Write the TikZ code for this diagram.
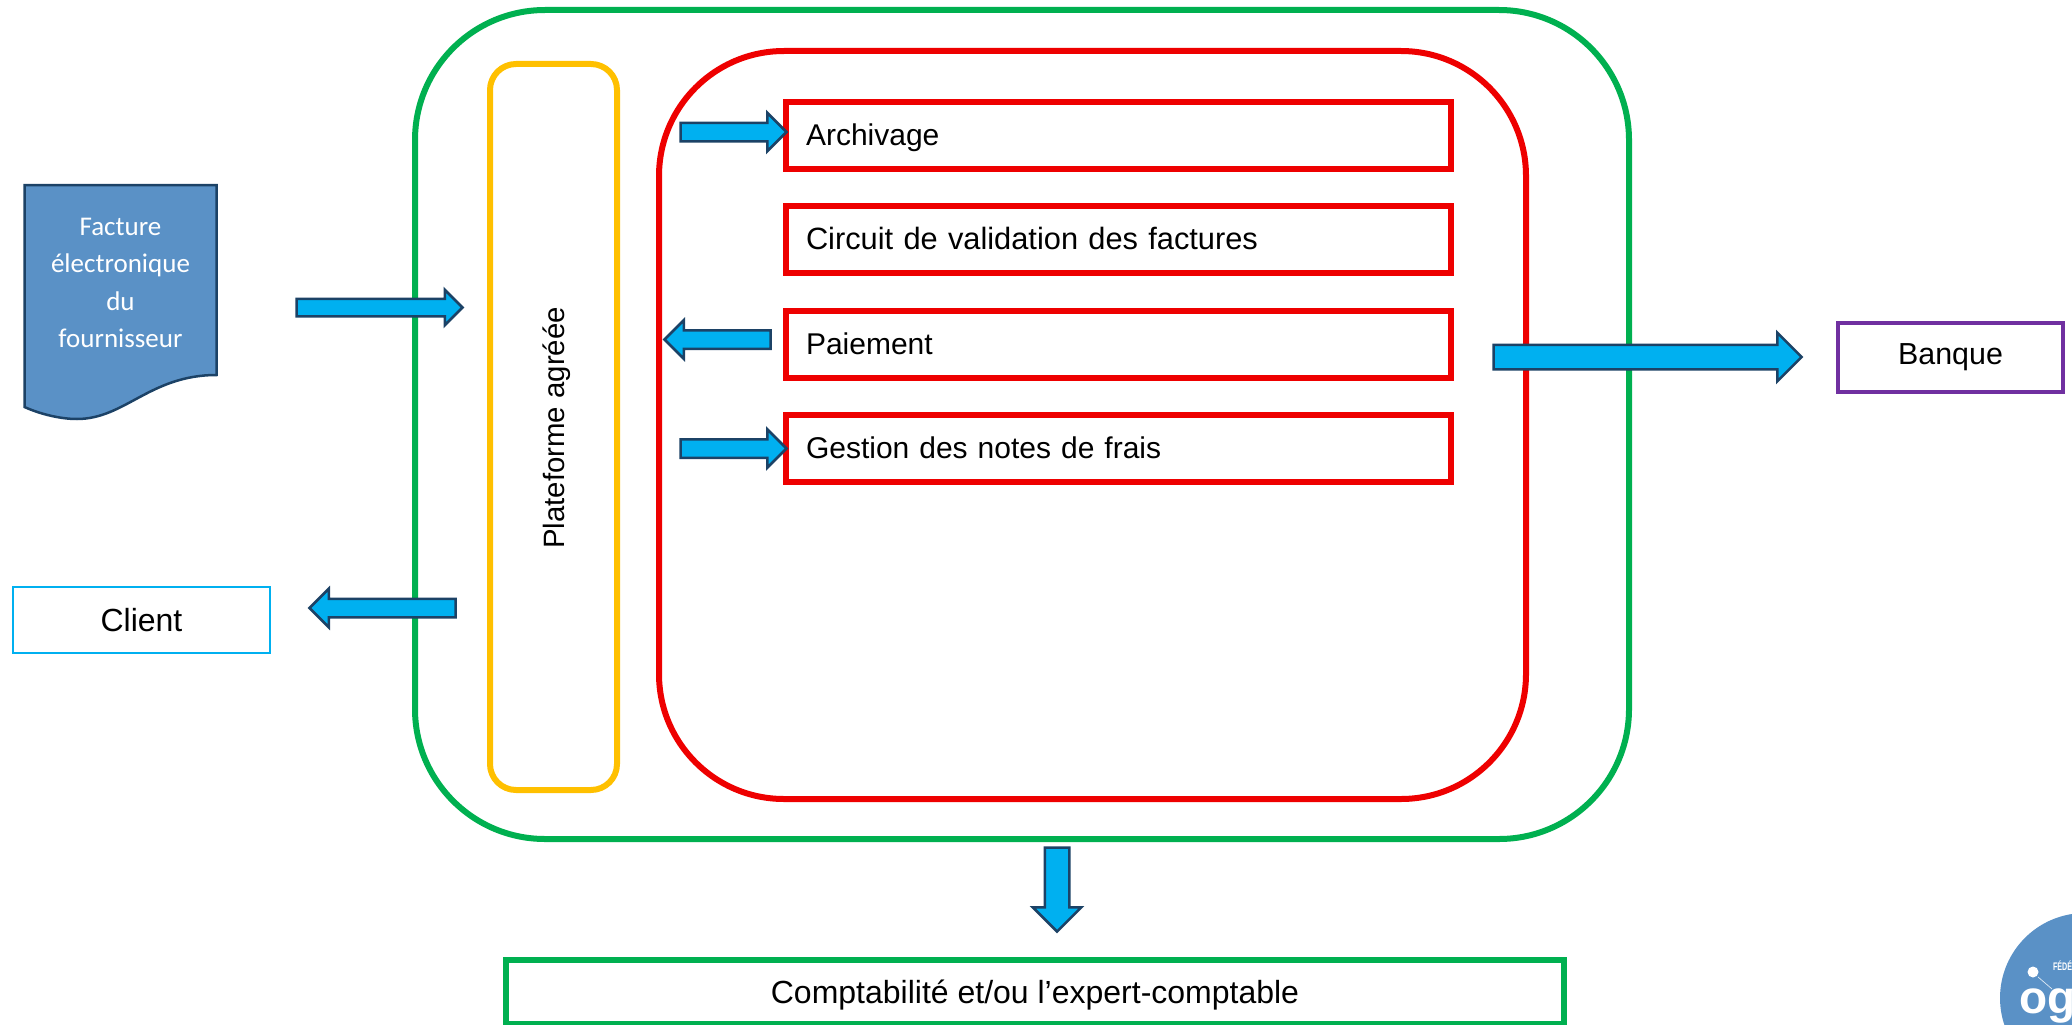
\documentclass[tikz,border=0pt]{standalone}
\usepackage{fontspec}
\setmainfont{Liberation Sans}
\newfontfamily\docfont{Carlito}
\usetikzlibrary{positioning, calc, shapes.arrows}
\definecolor{plgreen}{HTML}{00B050}
\definecolor{plred}{HTML}{EE0000}
\definecolor{plyellow}{HTML}{FFC000}
\definecolor{plpurple}{HTML}{7030A0}
\definecolor{plcyan}{HTML}{00B0F0}
\definecolor{pldark}{HTML}{1C4266}
\definecolor{plblue}{HTML}{5A91C6}
\tikzset{
every node/.style = {outer sep = 0pt, inner sep = 0pt},
frame/.style = {rectangle, draw, rounded corners = 130pt, line width = 6pt},
label text/.style = {font = \fontsize{#1}{36}\selectfont},
step box/.style = {rectangle, draw = plred, line width = 6pt, minimum width = 665pt,
   minimum height = 67pt, text width = 624pt, align = left, text height = 24pt,
   text depth = 5pt, label text = 30},
flow/.style = {single arrow, anchor = tip, draw = pldark, fill = plcyan, line width = 2.5pt,
   inner xsep = 0pt, inner ysep = 8pt, minimum width = 36pt, single arrow head extend = 10pt},
bigflow/.style = {flow, inner ysep = 11pt, minimum width = 46pt, single arrow head extend = 12pt}
}
\begin{document}
\begin{tikzpicture}[x = 1pt, y = -1pt]
\useasboundingbox (0,0) rectangle (2072,1025);

%% Frames
\node [frame, draw = plgreen, minimum width = 1214pt, minimum height = 829pt] (Ogs) at (1022,424.5) {};
\node [frame, draw = plyellow, rounded corners = 26pt, minimum width = 127pt, minimum height = 726pt] (Pa) at (553.5,427) {};
\node [frame, draw = plred, rounded corners = 125pt, minimum width = 867pt, minimum height = 748pt] (Sys) at (1092.5,425) {};
\node [rotate = 90, label text = 29.4] (PaText) at (557,428) {Plateforme agréée};

%% Steps
\node [step box] (S1) at (1118,135.5) {Archivage};
\node [step box, label text = 30.8] (S2) [below = 37pt of S1] {Circuit de validation des factures};
\node [step box] (S3) [below = 38pt of S2] {Paiement};
\node [step box] (S4) [below = 37pt of S3] {Gestion des notes de frais};

%% Outside
\draw [draw = pldark, fill = plblue, line width = 2.5pt]
   (24.5,185) -- (216.5,185) -- (216.5,375) .. controls (150,375) and (125,419) .. (77,419)
   .. controls (60,419) and (40,414) .. (24.5,407) -- cycle;
\node [align = center, text = white, font = \docfont\fontsize{27}{37.5}\selectfont] (Fact) at (120.5,283) {Facture\\électronique\\du\\fournisseur};
\node [rectangle, draw = plcyan, line width = 2pt, minimum width = 257pt, minimum height = 66pt, label text = 32] (Client) at (141.5,620) {Client};
\node [rectangle, draw = plpurple, line width = 4pt, minimum width = 225pt, minimum height = 69pt, label text = 30.4] (Bank) at (1950.5,357) {Banque};
\node [rectangle, draw = plgreen, line width = 6pt, minimum width = 1058pt, minimum height = 64pt, text height = 27pt, text depth = 5pt, label text = 32] (Compta) at (1035,992) {Comptabilité et/ou l’expert-comptable};

%% Flows
\node [flow, inner ysep = 7.5pt, minimum width = 33pt, single arrow head extend = 9pt, minimum height = 166pt] (F1) at (462.5,307.5) {};
\node [flow, minimum height = 146pt, rotate = 180] (F2) at (309.5,608) {};
\node [flow, minimum height = 106pt] (F3) at ($(S1.west)+(1,-3.5)$) {};
\node [flow, minimum height = 106pt, rotate = 180] (F4) at (664.5,339.5) {};
\node [flow, minimum height = 106pt] (F5) at ($(S4.west)+(1,0)$) {};
\node [bigflow, minimum height = 308pt] (F6) at (1801.5,357) {};
\node [bigflow, minimum height = 84pt, rotate = -90] (F7) at (1057,931.5) {};

%% Logo
\begin{scope}
\clip (0,0) rectangle (2072,1025);
\fill [plblue] (2085,998) circle (85pt);
\fill [white] (2033,972) circle (5.5pt);
\draw [white!80!plblue, line width = .7pt] (2038,977) -- (2052,989);
\node [anchor = base west, text = white, font = \bfseries\fontsize{46}{46}\selectfont] (Logo) at (2019,1013) {og};
\node [anchor = base west, xscale = .65, text = white, font = \bfseries\fontsize{11}{11}\selectfont] (LogoFed) at (2053,970) {FÉDÉ};
\end{scope}
\end{tikzpicture}
\end{document}
